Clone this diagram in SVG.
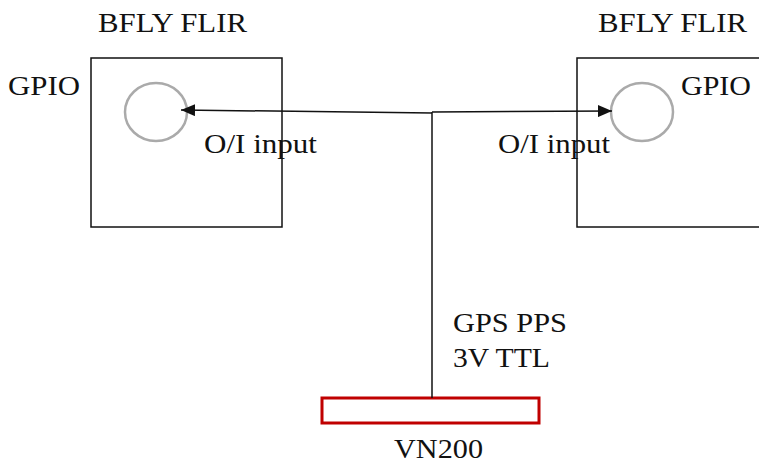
<svg xmlns="http://www.w3.org/2000/svg" width="759" height="468" viewBox="0 0 759 468">
<style>
text{font-family:"Liberation Serif","Times New Roman",serif;font-size:26.5px;fill:#111;}
.box{fill:none;stroke:#111;stroke-width:1.5;}
.port{fill:none;stroke:#aaaaaa;stroke-width:2.5;}
.wire{fill:none;stroke:#111;stroke-width:1.5;}
</style>
<defs>
<marker id="arr" viewBox="0 0 14 12" refX="14" refY="6" markerWidth="14" markerHeight="12" markerUnits="userSpaceOnUse" orient="auto">
<path d="M0,0 L14,6 L0,12 z" fill="#111"/>
</marker>
</defs>
<rect width="759" height="468" fill="#fff"/>
<g id="cam-left">
<rect class="box" x="91" y="58" width="191" height="169"/>
<ellipse class="port" cx="156" cy="112" rx="31" ry="29"/>
<text x="98" y="32" textLength="149" lengthAdjust="spacingAndGlyphs">BFLY FLIR</text>
<text x="8" y="95" textLength="72" lengthAdjust="spacingAndGlyphs">GPIO</text>
</g>
<g id="cam-right">
<rect class="box" x="577" y="58" width="200" height="169"/>
<ellipse class="port" cx="642" cy="112" rx="31" ry="29"/>
<text x="598" y="32" textLength="149" lengthAdjust="spacingAndGlyphs">BFLY FLIR</text>
<text x="681" y="95" textLength="70" lengthAdjust="spacingAndGlyphs">GPIO</text>
</g>
<g id="vn200">
<rect x="322" y="398" width="217" height="25" fill="none" stroke="#c00000" stroke-width="3"/>
<text x="394" y="458" textLength="89" lengthAdjust="spacingAndGlyphs">VN200</text>
</g>
<g id="connectors">
<line class="wire" x1="432" y1="398" x2="432" y2="112"/>
<line class="wire" x1="432" y1="113" x2="181" y2="110" marker-end="url(#arr)"/>
<line class="wire" x1="432" y1="112" x2="612" y2="111" marker-end="url(#arr)"/>
<text x="204" y="153" textLength="113" lengthAdjust="spacingAndGlyphs">O/I input</text>
<text x="498" y="153" textLength="112" lengthAdjust="spacingAndGlyphs">O/I input</text>
<text x="453" y="332" textLength="114" lengthAdjust="spacingAndGlyphs">GPS PPS</text>
<text x="453" y="367" textLength="97" lengthAdjust="spacingAndGlyphs">3V TTL</text>
</g>
</svg>
